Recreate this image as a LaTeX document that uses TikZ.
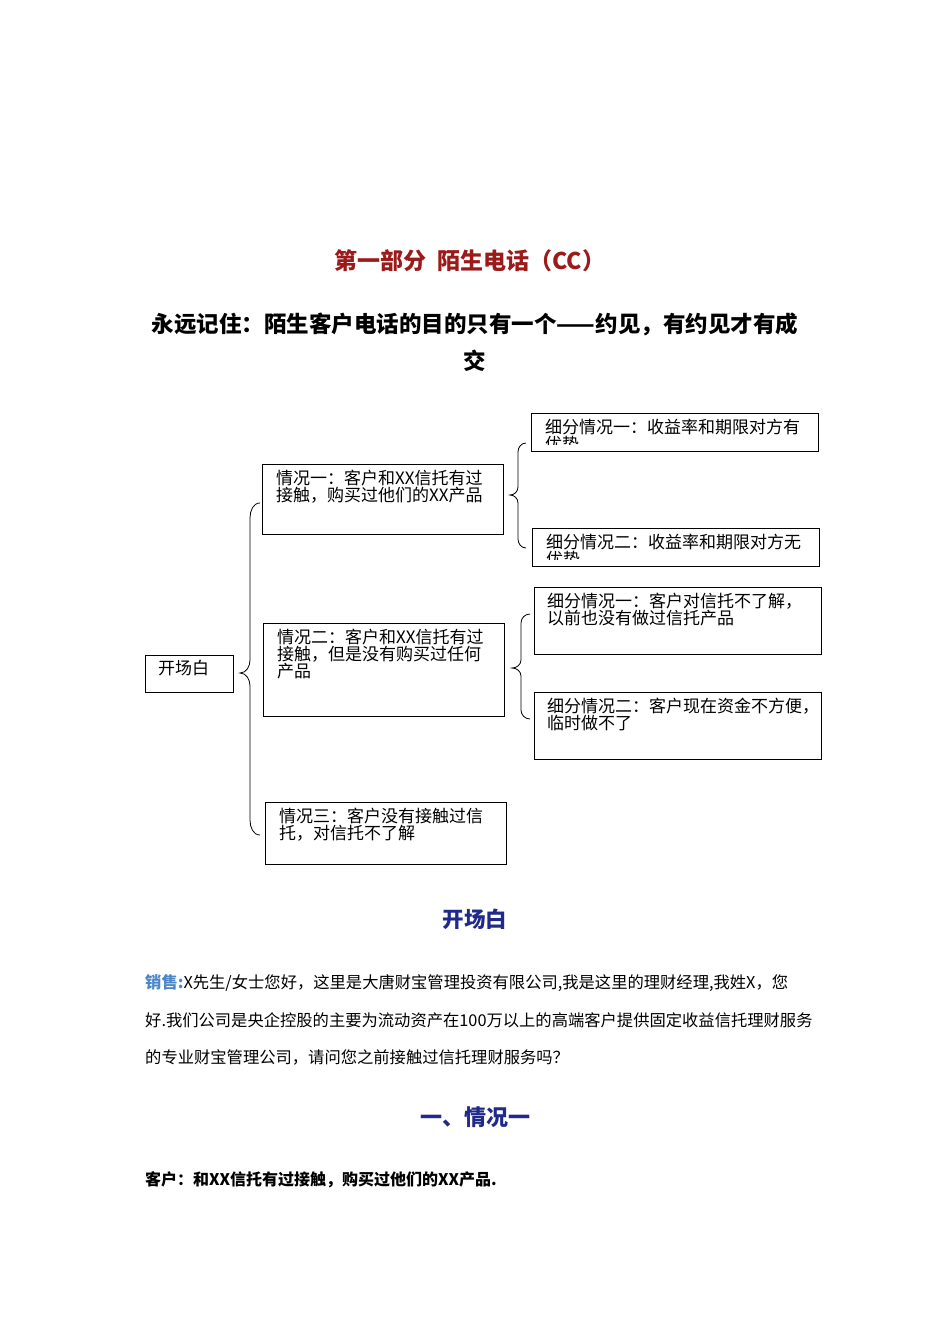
\documentclass[tikz,border=0pt]{standalone}
\usepackage{fontspec}
\setmainfont{Noto Sans CJK SC}
\begin{document}
\begin{tikzpicture}[x=1pt,y=-1pt,
  bx/.style={draw,line width=0.9pt},
  bt/.style={anchor=north west,align=left,inner sep=0pt,font=\fontsize{17}{17}\selectfont},
  br/.style={line width=0.8pt},
  para/.style={anchor=west,inner sep=0pt,font=\fontsize{16.3}{18}\selectfont}]
\useasboundingbox (0,0) rectangle (950,1344);
\definecolor{dred}{HTML}{9B1B1B}
\definecolor{dblue}{HTML}{1F2A8A}
\definecolor{lblue}{HTML}{4A86C8}
\node[font=\fontsize{23}{26}\selectfont\bfseries,text=dred] (t1) at (470,261) {第一部分\ \ 陌生电话（CC）};
\node[font=\fontsize{22.5}{26}\selectfont\bfseries] (t2) at (475,324) {永远记住：陌生客户电话的目的只有一个——约见，有约见才有成};
\node[font=\fontsize{22.5}{26}\selectfont\bfseries] (t3) at (475,361) {交};
% boxes
\draw[bx] (145,655) rectangle (233,692); \node[bt] (a) at (158,660) {开场白};
\draw[bx] (262,464) rectangle (503,534); \node[bt] (b1) at (276,470) {情况一：客户和XX信托有过\\接触，购买过他们的XX产品};
\draw[bx] (263,623) rectangle (504,716); \node[bt] (b2) at (277,629) {情况二：客户和XX信托有过\\接触，但是没有购买过任何\\产品};
\draw[bx] (265,802) rectangle (506,864); \node[bt] (b3) at (279,808) {情况三：客户没有接触过信\\托，对信托不了解};
\draw[bx] (531,413) rectangle (818,451);
\begin{scope}\clip (531,413) rectangle (818,444);\node[bt] (c1) at (545,419) {细分情况一：收益率和期限对方有\\优势};\end{scope}
\draw[bx] (532,528) rectangle (819,566);
\begin{scope}\clip (532,528) rectangle (819,559);\node[bt] (c2) at (546,534) {细分情况二：收益率和期限对方无\\优势};\end{scope}
\draw[bx] (534,587) rectangle (821,654); \node[bt] (d1) at (547,593) {细分情况一：客户对信托不了解，\\以前也没有做过信托产品};
\draw[bx] (534,692) rectangle (821,759); \node[bt] (d2) at (547,698) {细分情况二：客户现在资金不方便，\\临时做不了};
% braces
\draw[br] (260,503) to[out=180,in=90] (250,518) -- (250,660) to[out=-90,in=0] (240,673) to[out=0,in=90] (250,686) -- (250,820) to[out=-90,in=180] (260,835);
\draw[br] (526,443) to[out=180,in=90] (518,452) -- (518,487) to[out=-90,in=0] (510,495) to[out=0,in=90] (518,503) -- (518,539) to[out=-90,in=180] (526,548);
\draw[br] (530,614) to[out=180,in=90] (521,623) -- (521,660) to[out=-90,in=0] (512,668) to[out=0,in=90] (521,676) -- (521,710) to[out=-90,in=180] (530,719);
% text below
\node[font=\fontsize{21.5}{24}\selectfont\bfseries,text=dblue] (h1) at (475,919) {开场白};
\node[para] (p1) at (145,983) {\textcolor{lblue}{\bfseries 销售:}X先生/女士您好，这里是大唐财宝管理投资有限公司,我是这里的理财经理,我姓X，您};
\node[para] (p2) at (145,1020) {好.我们公司是央企控股的主要为流动资产在100万以上的高端客户提供固定收益信托理财服务};
\node[para] (p3) at (145,1057) {的专业财宝管理公司，请问您之前接触过信托理财服务吗？};
\node[font=\fontsize{22}{24}\selectfont\bfseries,text=dblue] (h2) at (475,1117) {一、情况一};
\node[para,font=\fontsize{16}{18}\selectfont\bfseries] (p4) at (145,1180) {客户：和XX信托有过接触，购买过他们的XX产品.};
\end{tikzpicture}
\end{document}
